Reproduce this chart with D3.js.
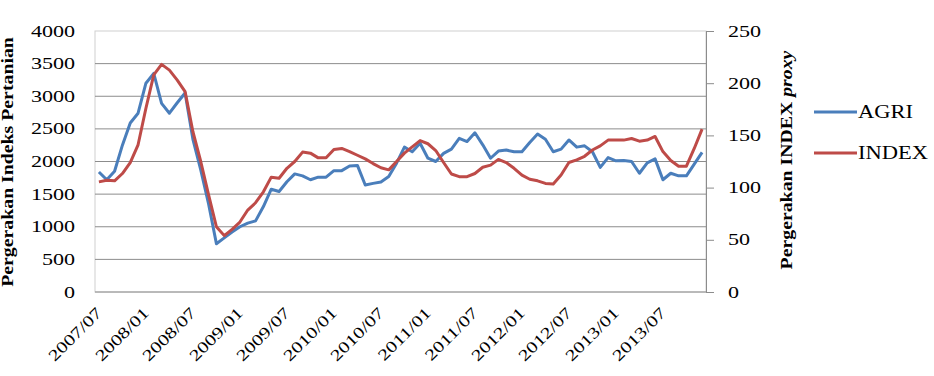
<!DOCTYPE html>
<html>
<head>
<meta charset="utf-8">
<script src="https://cdn.jsdelivr.net/npm/d3@7/dist/d3.min.js"></script>
<style>
  body { margin: 0; background: #fff; }
  text { font-family: "Liberation Serif", "Times New Roman", serif; fill: #000; }
</style>
</head>
<body>
<svg id="chart"></svg>
<script>
// monthly values, 2007/07 .. 2013/12
const agri = [1840, 1720, 1850, 2250, 2590, 2740, 3200, 3350, 2890, 2740, 2900, 3050,
  2340, 1870, 1350, 740, 830, 920, 1000, 1055, 1090, 1310, 1575, 1540,
  1690, 1810, 1780, 1720, 1760, 1760, 1860, 1860, 1930, 1940, 1640, 1665,
  1685, 1770, 1975, 2220, 2150, 2280, 2050, 2000, 2125, 2190, 2355, 2305,
  2440, 2255, 2050, 2160, 2175, 2150, 2150, 2290, 2420, 2340, 2150, 2190,
  2330, 2220, 2240, 2150, 1910, 2060, 2010, 2015, 2000, 1820, 1980, 2040,
  1720, 1820, 1780, 1780, 1960, 2140]

const indexProxy = [105.5, 107, 106.5, 113.5, 124, 141, 176, 208, 218, 212.5, 203, 192,
  153.5, 125, 93, 62.5, 54, 60, 67, 78.5, 85.5, 96, 110, 109,
  118.5, 125, 134, 133, 128.5, 128.5, 136.5, 137.5, 134.5, 131, 127.5, 123,
  119, 117, 125, 133, 139, 145, 142, 135.5, 124, 113, 110.5, 110.5,
  113.5, 119.5, 121.5, 127, 124, 118.5, 112, 108, 106.5, 104, 103.5, 112,
  124, 126.5, 130, 136, 140, 145.5, 145.5, 145.5, 147, 144.5, 145.5, 149,
  134.5, 126, 120.5, 120.5, 137.5, 156]

const tickLabels = ["2007/07", "2008/01", "2008/07", "2009/01", "2009/07", "2010/01", "2010/07",
  "2011/01", "2011/07", "2012/01", "2012/07", "2013/01", "2013/07"]

const leftTicks = [0, 500, 1000, 1500, 2000, 2500, 3000, 3500, 4000]
const rightTicks = [0, 50, 100, 150, 200, 250]

const seriesNames = ["AGRI", "INDEX"]
const colors = ["#4a7ebb", "#be4b48"]

const months = d3.timeMonth.range(new Date(2007, 6, 1), new Date(2014, 0, 1)).map(d3.timeFormat("%Y/%m"))

const width = 934
const height = 376
const plotLeft = 95, plotRight = 706, plotTop = 31, plotBottom = 292

const svg = d3.select("#chart")
    .attr("width", width)
    .attr("height", height)
    .style("background", "#FFFFFF")

const x = d3.scaleBand().domain(months).range([plotLeft, plotRight])
const cx = (m) => x(m) + x.bandwidth() / 2
const yLeft = d3.scaleLinear().domain([0, 4000]).range([plotBottom, plotTop])
const yRight = d3.scaleLinear().domain([0, 250]).range([plotBottom, plotTop])

// stretched serif text, like the source picture
const label = (g, px, py, str, anchor, size, sx, extra = "") => g.append("text")
    .attr("transform", `translate(${px},${py}) ${extra} scale(${sx},1)`)
    .attr("text-anchor", anchor)
    .style("font-size", size + "px")
    .text(str)

// plot border + gridlines
svg.append("rect")
    .attr("x", plotLeft).attr("y", plotTop)
    .attr("width", plotRight - plotLeft).attr("height", plotBottom - plotTop)
    .attr("fill", "none").attr("stroke", "#cfcfcf")

svg.append("g")
    .selectAll("line")
    .data(leftTicks.filter(t => t > 0 && t < 4000))
    .enter()
    .append("line")
    .attr("x1", plotLeft).attr("x2", plotRight)
    .attr("y1", d => yLeft(d)).attr("y2", d => yLeft(d))
    .attr("stroke", "#8c8c8c")

// bottom axis line
svg.append("line")
    .attr("x1", plotLeft).attr("x2", plotRight)
    .attr("y1", plotBottom).attr("y2", plotBottom)
    .attr("stroke", "#8c8c8c")

// right axis
const rightAxis = d3.axisRight(yRight).tickValues(rightTicks).tickSize(8).tickFormat("")
svg.append("g")
    .attr("transform", `translate(${plotRight},0)`)
    .call(rightAxis)
    .call(g => g.selectAll("line,path").attr("stroke", "#8c8c8c"))

const labels = svg.append("g")
leftTicks.forEach(t => label(labels, 75, yLeft(t) + 5.5, t, "end", 16, 1.38))
rightTicks.forEach(t => label(labels, 728, yRight(t) + 5.5, t, "start", 16, 1.38))

tickLabels.forEach(t => {
    const m = months.indexOf(t)
    label(labels, cx(months[m]) + 4, 314, t, "end", 16, 1.3, "rotate(-45)")
})

// axis titles
label(svg, 13, 162, "Pergerakan Indeks Pertanian", "middle", 16.5, 1.2, "rotate(-90)")
    .style("font-weight", "bold")

const rt = label(svg, 792, 160, "Pergerakan INDEX ", "middle", 16.5, 1.2, "rotate(-90)")
    .style("font-weight", "bold")
rt.append("tspan").style("font-style", "italic").text("proxy")

// lines
const line = (yScale) => d3.line()
    .x((d, i) => cx(months[i]))
    .y(d => yScale(d))

svg.append("path")
    .datum(agri)
    .attr("d", line(yLeft))
    .attr("fill", "none")
    .attr("stroke", colors[0])
    .attr("stroke-width", 3)
    .attr("stroke-linejoin", "round")

svg.append("path")
    .datum(indexProxy)
    .attr("d", line(yRight))
    .attr("fill", "none")
    .attr("stroke", colors[1])
    .attr("stroke-width", 3)
    .attr("stroke-linejoin", "round")

// legend
const legend = svg.append("g")
seriesNames.forEach((name, i) => {
    const ly = 112 + i * 41
    legend.append("line")
        .attr("x1", 814).attr("x2", 857)
        .attr("y1", ly).attr("y2", ly)
        .attr("stroke", colors[i]).attr("stroke-width", 3)
    label(legend, 858, ly + 6, name, "start", 18, 1.25)
})
</script>
